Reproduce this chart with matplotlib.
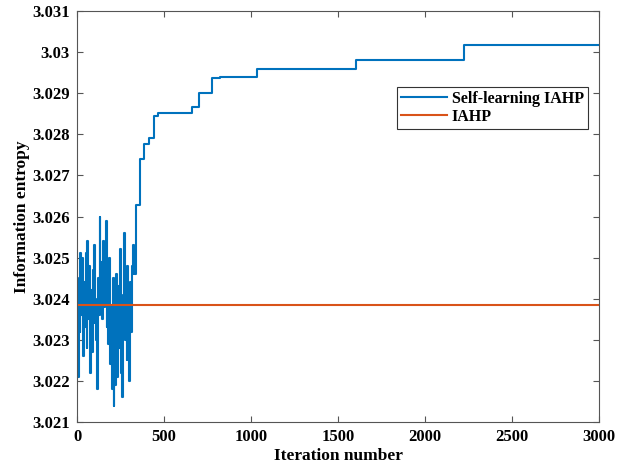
import matplotlib
matplotlib.use('Agg')
import matplotlib.pyplot as plt
from matplotlib.ticker import FuncFormatter

# noisy early phase of self-learning IAHP (every 5 iterations)
noise_x = list(range(0, 340, 5))
noise_y = [3.0242, 3.0221, 3.0245, 3.0232, 3.0251, 3.0236, 3.0250, 3.0226,
           3.0244, 3.0233, 3.0251, 3.0228, 3.0254, 3.0235, 3.0248, 3.0222,
           3.0242, 3.0227, 3.0247, 3.0234, 3.0253, 3.0240, 3.0230, 3.0218,
           3.0245, 3.0236, 3.0260, 3.0237, 3.0249, 3.0235, 3.0254, 3.0238,
           3.0252, 3.0259, 3.0233, 3.0248, 3.0229, 3.0250, 3.0224, 3.0238,
           3.0218, 3.0245, 3.0214, 3.0236, 3.0219, 3.0246, 3.0221, 3.0243,
           3.0228, 3.0252, 3.0236, 3.0222, 3.0216, 3.0241, 3.0256, 3.0230,
           3.0247, 3.0225, 3.0248, 3.0233, 3.0220, 3.0244, 3.0232, 3.0248,
           3.0253, 3.0246, 3.0251, 3.0246]

# step phase
step_x = [340, 362, 385, 414, 444, 467, 659, 703, 776, 822, 1034, 1605, 2225, 3000]
step_y = [3.02628, 3.02741, 3.02776, 3.02790, 3.02845, 3.02853, 3.02867,
          3.02901, 3.02936, 3.02940, 3.02958, 3.02981, 3.03017, 3.03017]

iahp_x = [0, 3000]
iahp_y = [3.02385, 3.02385]

xs = noise_x + step_x
ys = noise_y + step_y

fig = plt.figure(figsize=(6.24, 4.67), dpi=100)
ax = fig.add_axes([0.1234, 0.0964, 0.8366, 0.88])

ax.plot(xs, ys, color='#0072BD', lw=1.5, drawstyle='steps-post', label='Self-learning IAHP')
ax.plot(iahp_x, iahp_y, color='#D95319', lw=1.5, label='IAHP')

ax.set_xlim(0, 3000)
ax.set_ylim(3.021, 3.031)
ax.set_xticks(range(0, 3001, 500))
ax.set_yticks([3.021 + 0.001 * i for i in range(11)])
ax.yaxis.set_major_formatter(FuncFormatter(lambda v, p: '%g' % round(v, 4)))

font = {'family': 'Liberation Serif', 'weight': 'bold', 'size': 12.5}
for lab in ax.get_xticklabels() + ax.get_yticklabels():
    lab.set_fontfamily('Liberation Serif')
    lab.set_fontweight('bold')
    lab.set_fontsize(12)
ax.set_xlabel('Iteration number', fontdict=font, labelpad=2)
ax.set_ylabel('Information entropy', fontdict=font, labelpad=2)

ax.tick_params(direction='in', top=True, right=True, length=4, color='#555555', pad=5)
for s in ax.spines.values():
    s.set_color('#555555')
    s.set_linewidth(0.8)

leg = ax.legend(loc='upper right', bbox_to_anchor=(0.979, 0.815), borderaxespad=0,
                fancybox=False, framealpha=1, edgecolor='#333333', borderpad=0.25,
                handlelength=2.9, handletextpad=0.3, labelspacing=0.1,
                prop={'family': 'Liberation Serif', 'weight': 'bold', 'size': 11.5})
leg.get_frame().set_linewidth(0.8)

fig.savefig('out.png', dpi=100)
